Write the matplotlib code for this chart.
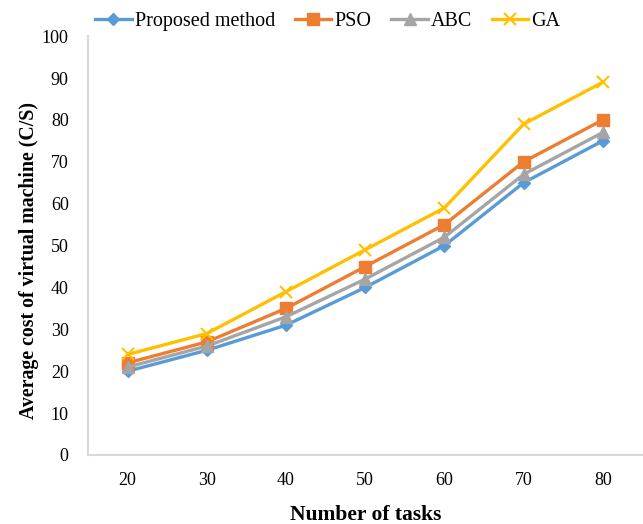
import matplotlib.pyplot as plt
import numpy as np

plt.rcParams['font.family'] = ['Liberation Serif', 'DejaVu Serif']

# Datos
tareas = ['20', '30', '40', '50', '60', '70', '80']
propuesto = [20, 25, 31, 40, 50, 65, 75]
pso = [22, 27, 35, 45, 55, 70, 80]
abc = [21, 26, 33, 42, 52, 67, 77]
ga = [24, 29, 39, 49, 59, 79, 89]

fig = plt.figure(figsize=(6.43, 5.24), dpi=100)
ax = fig.add_axes([0.137, 0.1317, 0.862, 0.7993])

x = np.arange(len(tareas))
ax.plot(x, propuesto, color='#5B9BD5', lw=2.4, marker='D', ms=6, label='Proposed method')
ax.plot(x, pso, color='#ED7D31', lw=2.4, marker='s', ms=8, label='PSO')
ax.plot(x, abc, color='#A5A5A5', lw=2.4, marker='^', ms=8, label='ABC')
ax.plot(x, ga, color='#FFC000', lw=2.4, marker='x', ms=8, mew=1.5, label='GA')

ax.set_xlim(-0.5, len(tareas) - 0.5)
ax.set_ylim(0, 100)
ax.set_xticks(x)
ax.set_xticklabels(tareas)
ax.set_yticks(range(0, 101, 10))
ax.tick_params(axis='both', length=0, labelsize=13)
ax.tick_params(axis='x', pad=12)
ax.tick_params(axis='y', pad=14)

for s in ['top', 'right']:
    ax.spines[s].set_visible(False)
for s in ['bottom', 'left']:
    ax.spines[s].set_color('#D9D9D9')
    ax.spines[s].set_linewidth(1.5)

ax.set_xlabel('Number of tasks', fontsize=15.5, fontweight='bold', labelpad=12)
ax.set_ylabel('Average cost of virtual machine (C/S)', fontsize=14.3, fontweight='bold')
ax.yaxis.set_label_coords(-0.088, 0.465)

fig.legend(loc='upper center', bbox_to_anchor=(0.51, 1.012), ncol=4, frameon=False,
           fontsize=14.5, handlelength=1.8, handletextpad=0.15, columnspacing=1.0)

fig.savefig('out.png', dpi=100)
